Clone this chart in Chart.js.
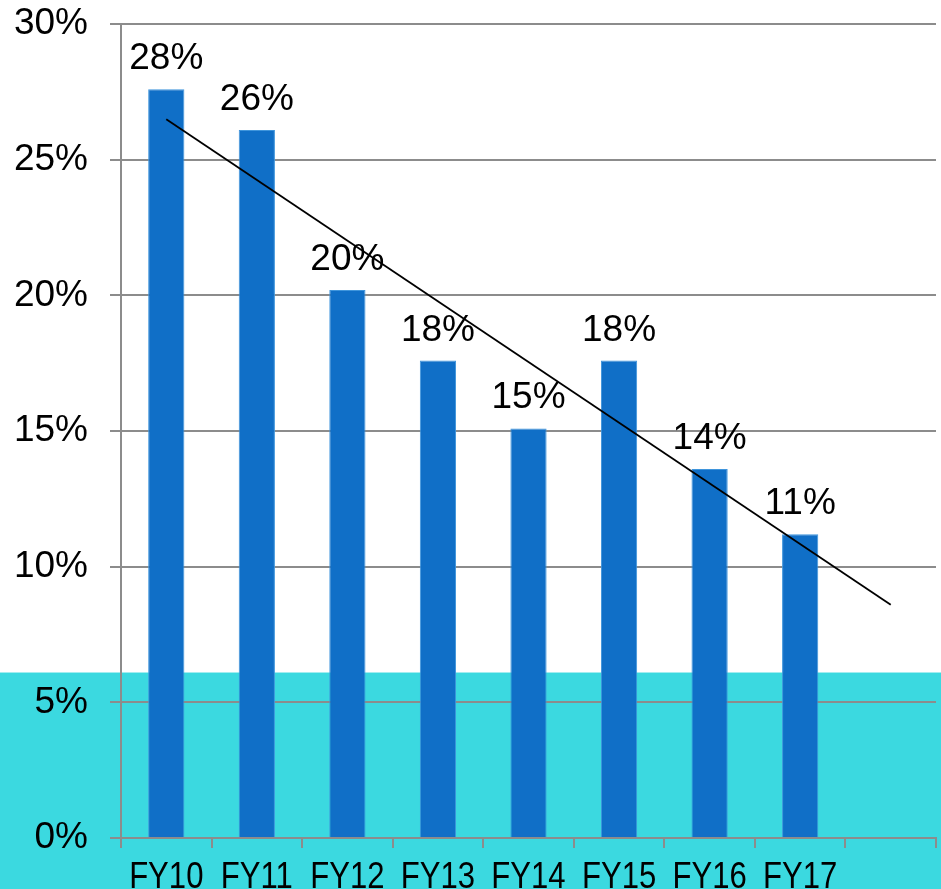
<!DOCTYPE html>
<html>
<head>
<meta charset="utf-8">
<script src="https://cdn.jsdelivr.net/npm/chart.js@4.4.1/dist/chart.umd.min.js"></script>
<style>
    html, body { margin: 0; padding: 0; overflow: hidden; background: #fff; }
    canvas { display: block; margin-top: -20px; }
</style>
</head>
<body>
<canvas id="growth-chart" width="941" height="918"></canvas>
<script>
// data
const years = ['FY10', 'FY11', 'FY12', 'FY13', 'FY14', 'FY15', 'FY16', 'FY17', ''];
const growth = [27.6, 26.1, 20.2, 17.6, 15.1, 17.6, 13.6, 11.2, null];
const growthLabels = ['28%', '26%', '20%', '18%', '15%', '18%', '14%', '11%', ''];
const trend = [26.5, null, null, null, null, null, null, null, 8.6];
const yTicks = [0, 5, 10, 15, 20, 25, 30];
const bandTop = 6.1; // cyan band reaches up to here

const family = '"Liberation Sans", Arial, sans-serif';
const bigFont = { family: family, size: 37 };

const backdrop = {
    id: 'backdrop',
    beforeDraw(chart) {
        const ctx = chart.ctx;
        const y = chart.scales.y.getPixelForValue(bandTop);
        ctx.save();
        ctx.fillStyle = '#ffffff';
        ctx.fillRect(0, 0, chart.width, chart.height);
        ctx.fillStyle = '#3bd9e0';
        ctx.fillRect(0, y, chart.width, chart.height - y);
        ctx.restore();
    }
};

const barLabels = {
    id: 'barLabels',
    afterDatasetsDraw(chart) {
        const ctx = chart.ctx;
        const meta = chart.getDatasetMeta(0);
        ctx.save();
        ctx.font = bigFont.size + 'px ' + bigFont.family;
        ctx.fillStyle = '#000';
        ctx.textAlign = 'center';
        ctx.textBaseline = 'alphabetic';
        meta.data.forEach((bar, i) => {
            if (growth[i] == null) return;
            ctx.fillText(growthLabels[i], bar.x, bar.y - 20);
        });
        ctx.restore();
    }
};

// category labels are a narrow face in the original, so squeeze them
const narrowCats = {
    id: 'narrowCats',
    afterDraw(chart) {
        const ctx = chart.ctx;
        const xs = chart.scales.x;
        const base = chart.chartArea.bottom + 50;
        ctx.save();
        ctx.font = bigFont.size + 'px ' + bigFont.family;
        ctx.fillStyle = '#000';
        ctx.textAlign = 'center';
        ctx.textBaseline = 'alphabetic';
        years.forEach((label, i) => {
            if (!label) return;
            ctx.save();
            ctx.translate(xs.getPixelForValue(i), base);
            ctx.scale(0.84, 1);
            ctx.fillText(label, 0, 0);
            ctx.restore();
        });
        ctx.restore();
    }
};

const ctx = document.getElementById('growth-chart').getContext('2d');
new Chart(ctx, {
    type: 'bar',
    data: {
        labels: years,
        datasets: [{
            data: growth,
            backgroundColor: '#106fc7',
            borderColor: '#3f95dc',
            borderWidth: 1,
            barPercentage: 0.4,
            categoryPercentage: 1,
            order: 2
        }, {
            type: 'line',
            data: trend,
            borderColor: '#000',
            borderWidth: 1.8,
            pointRadius: 0,
            spanGaps: true,
            fill: false,
            order: 1
        }]
    },
    options: {
        responsive: false,
        animation: false,
        layout: { padding: { top: 0, right: 5, left: 0, bottom: 0 } },
        plugins: {
            legend: { display: false },
            tooltip: { enabled: false }
        },
        scales: {
            x: {
                afterFit(scale) { scale.height = 60; },
                grid: {
                    offset: true,
                    drawOnChartArea: false,
                    drawTicks: true,
                    tickLength: 10,
                    color: '#8c8c8c',
                    lineWidth: 2
                },
                border: { color: '#8c8c8c', width: 2 },
                ticks: { color: 'rgba(0,0,0,0)', maxRotation: 0, autoSkip: false }
            },
            y: {
                min: 0,
                max: 30,
                afterFit(scale) { scale.width = 121; },
                afterBuildTicks(axis) {
                    axis.ticks = yTicks.map(v => ({ value: v }));
                },
                grid: { color: '#8c8c8c', lineWidth: 2, tickLength: 11 },
                border: { color: '#8c8c8c', width: 2 },
                ticks: {
                    font: bigFont,
                    color: '#000',
                    padding: 22,
                    callback: v => v + '%'
                }
            }
        }
    },
    plugins: [backdrop, barLabels, narrowCats]
});
</script>
</body>
</html>
